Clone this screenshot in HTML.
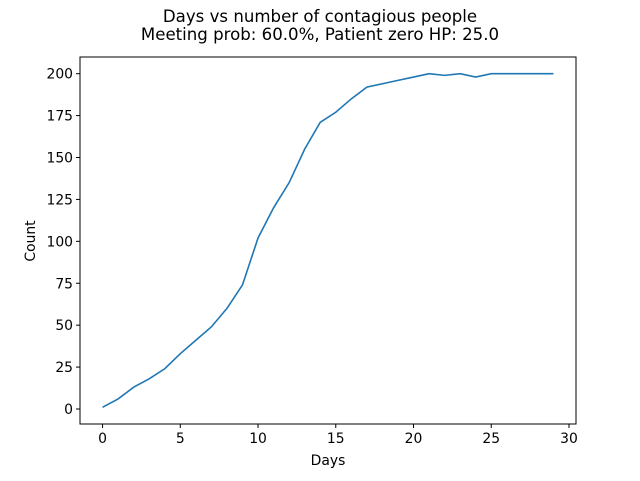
<!DOCTYPE html>
<html><head><meta charset="utf-8"><style>
body{margin:0;background:#fff}
svg text{font-family:"DejaVu Sans","Liberation Sans",sans-serif;fill:#000}
</style></head><body>
<svg width="640" height="476" xmlns="http://www.w3.org/2000/svg">
<rect width="640" height="476" fill="#fff"/>
<text x="320" y="22" font-size="16.6" text-anchor="middle">Days vs number of contagious people</text>
<text x="320" y="40" font-size="16.6" text-anchor="middle">Meeting prob: 60.0%, Patient zero HP: 25.0</text>
<g id="axes"></g>
<text x="328" y="465" font-size="13.9" text-anchor="middle">Days</text>
<text transform="translate(35,241) rotate(-90)" font-size="13.9" text-anchor="middle">Count</text>
</svg>
<script>
const days=[0,1,2,3,4,5,6,7,8,9,10,11,12,13,14,15,16,17,18,19,20,21,22,23,24,25,26,27,28,29];
const counts=[1,6,13,18,24,33,41,49,60,74,102,120,135,155,171,177,185,192,194,196,198,200,199,200,198,200,200,200,200,200];
const xTicks=[0,5,10,15,20,25,30];
const yTicks=[0,25,50,75,100,125,150,175,200];
const L=80,R=576,T=57,B=424;
const xmin=-1.45,xmax=30.45,ymin=-8.95,ymax=209.95;
const sx=v=>L+(v-xmin)/(xmax-xmin)*(R-L);
const sy=v=>B-(v-ymin)/(ymax-ymin)*(B-T);
const g=document.getElementById('axes');
const NS='http://www.w3.org/2000/svg';
function mk(t,a){const e=document.createElementNS(NS,t);for(const k in a)e.setAttribute(k,a[k]);g.appendChild(e);return e;}
xTicks.forEach(v=>{
 const l=mk('line',{x1:sx(v),x2:sx(v),y1:B,y2:B+4,stroke:'#000'});
 
 
 const t=mk('text',{x:sx(v),y:B+19,'font-size':13.9,'text-anchor':'middle'});t.textContent=v;
 
 
});
yTicks.forEach(v=>{
 const l=mk('line',{x1:L-4,x2:L,y1:sy(v),y2:sy(v),stroke:'#000'});
 
 
 const t=mk('text',{x:L-7,y:sy(v)+5,'font-size':13.9,'text-anchor':'end'});t.textContent=v;
 
 
});
const p=mk('polyline',{points:days.map((d,i)=>sx(d)+','+sy(counts[i])).join(' '),fill:'none',stroke:'#1f77b4','stroke-width':1.6});


const f=mk('rect',{x:L,y:T,width:R-L,height:B-T,fill:'none',stroke:'#000','stroke-width':1});


</script>
</body></html>
